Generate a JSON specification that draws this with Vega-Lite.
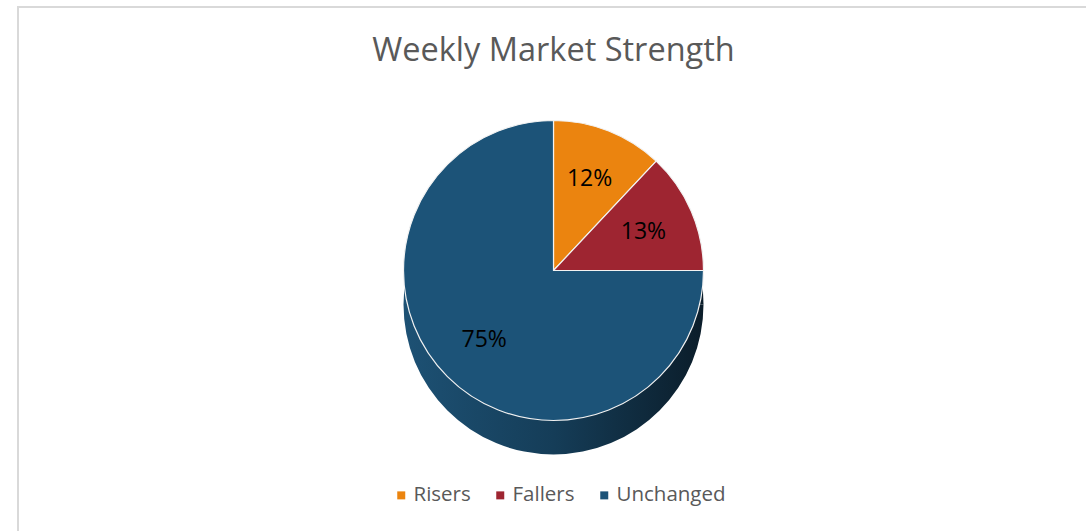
{
  "$schema": "https://vega.github.io/schema/vega-lite/v6.json",
  "autosize": {"type": "fit", "contains": "padding"},
  "width": 1086,
  "height": 531,
  "padding": {"left": 18, "top": 7, "right": -3, "bottom": -3},
  "background": "white",
  "view": {"stroke": "#d9d9d9", "strokeWidth": 2, "fill": "white"},
  "title": {
    "text": "Weekly Market Strength",
    "frame": "group",
    "anchor": "middle",
    "offset": -60,
    "font": "Open Sans",
    "fontSize": 32.5,
    "fontWeight": "normal",
    "color": "#595959"
  },
  "data": {
    "values": [
      {"category": "Risers", "value": 0.12},
      {"category": "Fallers", "value": 0.13},
      {"category": "Unchanged", "value": 0.75}
    ]
  },
  "encoding": {
    "theta": {"field": "value", "type": "quantitative", "stack": true},
    "order": {"field": "value", "type": "quantitative", "sort": "ascending"}
  },
  "layer": [
    {
      "mark": {
        "type": "arc",
        "outerRadius": 150,
        "yOffset": 34,
        "stroke": null,
        "color": {
          "gradient": "linear",
          "x1": 0, "y1": 0, "x2": 1, "y2": 0,
          "stops": [
            {"offset": 0, "color": "#1d5174"},
            {"offset": 0.5, "color": "#153d58"},
            {"offset": 1, "color": "#0b1d2a"}
          ]
        }
      }
    },
    {
      "mark": {"type": "arc", "outerRadius": 150, "stroke": "#f2f2f2", "strokeWidth": 1.2},
      "encoding": {
        "color": {
          "field": "category",
          "type": "nominal",
          "scale": {"domain": ["Risers", "Fallers", "Unchanged"], "range": ["#EB840F", "#9E2531", "#1C5378"]},
          "legend": {
            "title": null,
            "orient": "none",
            "direction": "horizontal",
            "legendX": 373,
            "legendY": 478,
            "symbolType": "square",
            "symbolSize": 64,
            "symbolStrokeWidth": 0,
            "labelFont": "Open Sans",
            "labelFontSize": 20.5,
            "labelColor": "#595959",
            "columnPadding": 19,
            "labelOffset": 2
          }
        }
      }
    },
    {
      "mark": {"type": "text", "radius": 98, "font": "Open Sans", "fontSize": 23, "color": "#000000"},
      "encoding": {
        "text": {"field": "value", "type": "quantitative", "format": ".0%"}
      }
    }
  ]
}
